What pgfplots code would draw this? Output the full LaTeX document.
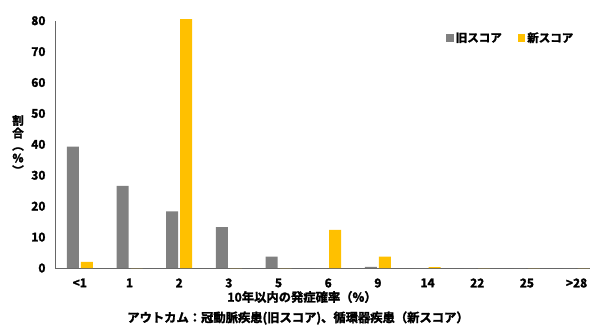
\documentclass[border=0pt]{standalone}
\usepackage{fontspec}
\setmainfont{Noto Sans CJK JP}[BoldFont={Noto Sans CJK JP Bold}, BoldFeatures={FakeBold=2}]
\usepackage{pgfplots}
\pgfplotsset{compat=1.18}
\definecolor{oldgray}{HTML}{808080}
\definecolor{newyellow}{HTML}{FFC000}
\begin{document}
\begin{tikzpicture}
\begin{axis}[
  at={(0,0)}, anchor=south west,
  scale only axis,
  width=535pt, height=247.3pt,
  xmin=-0.5, xmax=10.27,
  ymin=0, ymax=80,
  clip=false,
  ybar=2pt, bar width=12pt,
  xtick={0,...,10},
  xticklabels={<1,1,2,3,5,6,9,14,22,25,>28},
  ytick={0,10,...,80},
  major tick length=0pt,
  axis x line*=bottom, axis y line*=left,
  axis line style={draw=black!60, line width=0.8pt},
  every axis x line/.append style={-},
  every axis y line/.append style={-},
  tick label style={font=\fontsize{12}{13}\selectfont\bfseries},
  /pgf/number format/assume math mode=true,
  xticklabel style={yshift=-7pt},
  yticklabel style={xshift=-6pt},
  legend style={at={(0.731,0.93)}, anchor=west, draw=none, fill=none,
    inner sep=0pt, font=\fontsize{11.5}{13}\selectfont\bfseries,
    legend columns=2, /tikz/every even column/.append style={column sep=14pt}},
  legend cell align=left,
  legend image code/.code={\fill[#1] (0pt,-3.8pt) rectangle (7.5pt,3.8pt);},
]
% 冠動脈疾患（旧スコア）
\addplot[fill=oldgray, draw=none] coordinates {
  (0,39.3) (1,26.6) (2,18.3) (3,13.2) (4,3.7) (5,0) (6,0.4) (7,0) (8,0) (9,0) (10,0)};
% 循環器疾患（新スコア）
\addplot[fill=newyellow, draw=none] coordinates {
  (0,2.0) (1,0) (2,80.5) (3,0) (4,0) (5,12.3) (6,3.7) (7,0.3) (8,0) (9,0) (10,0)};
\legend{旧スコア,新スコア}
\end{axis}
\node[font=\fontsize{12.3}{13}\selectfont\bfseries] at (247pt,-29pt) {10年以内の発症確率（\%）};
\node[font=\fontsize{12.3}{13}\selectfont\bfseries] at (243pt,-50pt) {アウトカム：冠動脈疾患(旧スコア)、循環器疾患（新スコア）};
\node[font=\fontsize{11.5}{12.5}\selectfont\bfseries, align=center, inner sep=0pt] at (-37pt,123pt)
  {割\\合\\︵\\\%\\︶};
\pgfresetboundingbox
\useasboundingbox (-55pt,-59pt) rectangle (536pt,268pt);
\end{tikzpicture}
\end{document}
